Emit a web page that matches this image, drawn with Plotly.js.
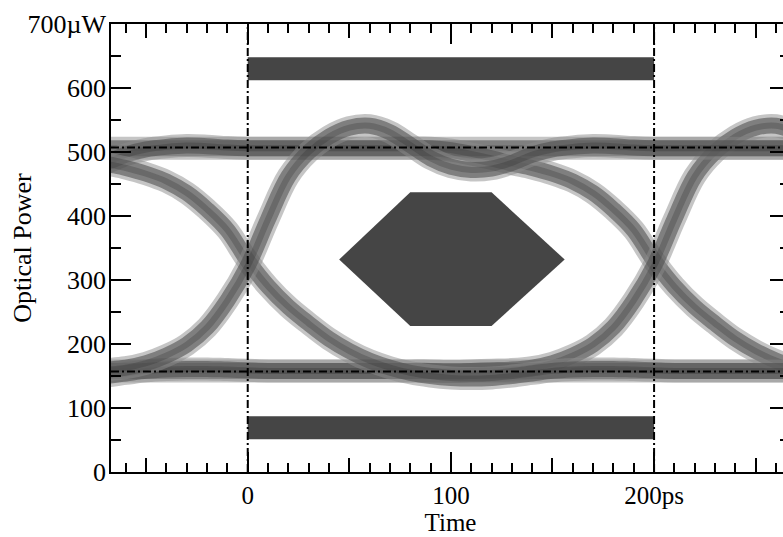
<!DOCTYPE html>
<html>
<head>
<meta charset="utf-8">
<script src="https://cdn.plot.ly/plotly-3.0.1.min.js"></script>
<style>
html,body{margin:0;padding:0;overflow:hidden;background:#fff;}
#chart{width:800px;height:537px;}
</style>
</head>
<body>
<div id="chart"></div>
<script>
// ---- data (time in ps, power in µW) ----
const tFull = [-100,-90,-80,-70,-60,-50,-40,-30,-20,-10,0,10,20,30,40,50,60,70,80,90,100,110,120,130,140,150,160,170,180,190,200,210,220,230,240,250,260,270];
// transition falling through the crossing at 0 ps, then staying low
const fallAt0 = [503,497,490,482,475,466,454,436,410,378,330,290,258,232,208,189,174,163,155,150,147,146,147,150,154,158,160,161,161,160,159,158,158,158,158,158,158,158];
// transition rising through the crossing at 0 ps (with ringing), then staying high
const riseAt0 = [157,158,159,160,163,170,182,199,226,268,322,395,462,500,524,538,541,531,511,490,477,472,474,483,496,504,508,510,509,507,506,506,506,506,506,506,506,506];
// ringing tail of an earlier rise, staying high, then falling through 200 ps
const highThenFall200 = [477,472,474,483,496,504,508,510,509,507,506,506,506,506,506,506,506,506,506,506,503,497,490,482,475,466,454,436,410,378,330,290,258,232,208,189,174,163];
// tail of an earlier fall, staying low, then rising through 200 ps
const lowThenRise200 = [147,146,147,150,154,158,160,161,161,160,159,158,158,158,158,158,158,158,158,158,157,158,159,160,163,170,182,199,226,268,322,395,462,500,524,538,541,531];

const tFlat = [-100,300];
const highFlat = [506,506];
const lowFlat = [158,158];

const refLevels = [507,157];
const refTimes = [0,200];

const barTimes = [0,200];
const topBar = [612,648];
const bottomBar = [51,87];

const hexX = [45,80,120,156,120,80,45];
const hexY = [332,437,437,332,228,228,332];

const xTickVals = [0,100,200];
const xTickText = ['0','100','200ps'];
const yTickVals = [0,100,200,300,400,500,600,700];
const yTickText = ['0','100','200','300','400','500','600','700µW'];

// ---- build ----
const eyeCurves = [
  [tFlat, highFlat],[tFlat, lowFlat],
  [tFull, highThenFall200],[tFull, lowThenRise200],
  [tFull, fallAt0],[tFull, riseAt0]
];
const layers = [
  {width:23, color:'rgba(140,140,140,0.5)'},
  {width:16, color:'rgba(80,80,80,0.6)'},
  {width:6, color:'rgba(40,40,40,0.25)'}
];
const traces = [];
eyeCurves.forEach(c => {
  layers.forEach(l => {
    traces.push({x:c[0], y:c[1], type:'scatter', mode:'lines',
      line:{width:l.width, color:l.color, shape:'spline', smoothing:1},
      hoverinfo:'skip', showlegend:false});
  });
});
const maskColor = '#454545';
function rectTrace(xs, ys){
  return {x:[xs[0],xs[1],xs[1],xs[0],xs[0]], y:[ys[0],ys[0],ys[1],ys[1],ys[0]],
    type:'scatter', mode:'lines', fill:'toself', fillcolor:maskColor,
    line:{width:0, color:maskColor}, hoverinfo:'skip', showlegend:false};
}
traces.push(rectTrace(barTimes, topBar));
traces.push(rectTrace(barTimes, bottomBar));
traces.push({x:hexX, y:hexY, type:'scatter', mode:'lines', fill:'toself', fillcolor:maskColor,
  line:{width:0, color:maskColor}, hoverinfo:'skip', showlegend:false});
// carrier for the overlay axes (mid-length ticks, y tick labels)
traces.push({x:[], y:[], xaxis:'x2', yaxis:'y2', type:'scatter', mode:'lines', showlegend:false, hoverinfo:'skip'});

const dashStyle = {color:'black', width:2, dash:'8px,3px,2px,3px'};
const shapes = [];
refLevels.forEach(v => shapes.push({type:'line', xref:'paper', x0:0, x1:1, yref:'y', y0:v, y1:v, line:dashStyle, layer:'above'}));
refTimes.forEach(v => shapes.push({type:'line', yref:'paper', y0:0, y1:1, xref:'x', x0:v, x1:v, line:dashStyle, layer:'above'}));

const fam = '"Liberation Serif", "Times New Roman", serif';
const font = {family:fam, size:25, color:'black'};
const xRange = [-67.3, 266.9];
const yRange = [0, 700];
const layout = {
  width:800, height:537,
  margin:{l:111, r:10, t:24, b:65},
  paper_bgcolor:'white', plot_bgcolor:'white',
  font:font,
  showlegend:false,
  xaxis:{range:xRange, tickmode:'array', tickvals:xTickVals, ticktext:xTickText,
    ticks:'inside', ticklen:20, tickwidth:2, tickcolor:'black',
    showline:true, linewidth:2, linecolor:'black', mirror:'ticks',
    showgrid:false, zeroline:false, tickfont:font,
    minor:{tickmode:'linear', tick0:0, dtick:10, ticklen:9, tickwidth:2, tickcolor:'black', ticks:'inside', showgrid:false},
    title:{text:'Time', font:{family:fam, size:25, color:'black'}, standoff:3}},
  xaxis2:{range:xRange, overlaying:'x', anchor:'y', side:'bottom', tickmode:'linear', tick0:0, dtick:50,
    ticks:'inside', ticklen:14, tickwidth:2, tickcolor:'black', showticklabels:false,
    showline:true, linewidth:2, linecolor:'black', mirror:'ticks', showgrid:false, zeroline:false},
  yaxis:{range:yRange, tickmode:'array', tickvals:yTickVals,
    ticks:'inside', ticklen:20, tickwidth:2, tickcolor:'black', showticklabels:false,
    showline:true, linewidth:2, linecolor:'black', mirror:'ticks',
    showgrid:false, zeroline:false,
    minor:{tickmode:'linear', tick0:0, dtick:50, ticklen:10, tickwidth:2, tickcolor:'black', ticks:'inside', showgrid:false},
    title:{text:'Optical Power', font:{family:fam, size:26, color:'black'}, standoff:70}},
  yaxis2:{range:yRange, overlaying:'y', anchor:'x', side:'left', tickmode:'array', tickvals:yTickVals, ticktext:yTickText,
    ticks:'', showline:false, showgrid:false, zeroline:false, tickfont:{family:fam, size:26, color:'black'}, ticklabelstandoff:4},
  shapes:shapes
};
Plotly.newPlot('chart', traces, layout, {staticPlot:true, displayModeBar:false});
</script>
</body>
</html>
